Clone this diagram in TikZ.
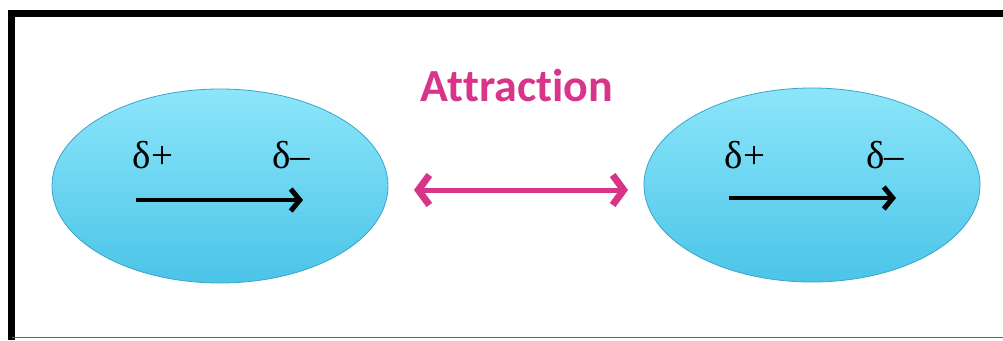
\documentclass[tikz,border=0pt]{standalone}
\usepackage{fontspec}
\setmainfont[Ligatures={NoCommon,NoRequired,NoContextual}]{Carlito}
\newfontfamily\greekfont{Liberation Serif}
\usetikzlibrary{shapes.geometric,arrows.meta}
\definecolor{pinkA}{RGB}{216,52,138}
\definecolor{cyanTop}{RGB}{140,230,250}
\definecolor{cyanBot}{RGB}{75,196,232}
\definecolor{cyanEdge}{RGB}{60,165,200}
\tikzset{
  molecule/.style={ellipse, minimum width=336pt, minimum height=194pt, inner sep=0pt,
    top color=cyanTop, bottom color=cyanBot, draw=cyanEdge, line width=0.8pt},
  charge/.style={font=\greekfont\fontsize{39}{41}\selectfont, inner sep=0pt, anchor=base},
  dipole/.style={line width=4.5pt, -{Straight Barb[length=9pt,width=22pt,line width=5pt]}},
  attract/.style={pinkA, line width=5pt, {Straight Barb[length=11pt,width=30pt,line width=7pt]}-{Straight Barb[length=11pt,width=30pt,line width=7pt]}},
}
\begin{document}
\begin{tikzpicture}[x=1pt,y=-1pt]
\useasboundingbox (0,0) rectangle (1003,340);
\fill[white] (0,0) rectangle (1003,340);
% frame
\draw[line width=7pt] (11.5,340) -- (11.5,13.5) -- (1003,13.5);
\draw[line width=1.5pt, black!60] (12,337.5) -- (1003,337.5);
% molecules
\node[molecule] (m1) at (220,186) {};
\node[molecule] (m2) at (812,185) {};
% charges
\node[charge] (p1) at (153,168) {δ+};
\node[charge] (n1) at (291,168) {δ–};
\node[charge] (p2) at (745,168) {δ+};
\node[charge] (n2) at (885,168) {δ–};
% dipole arrows
\coordinate (d1s) at (136,200);
\coordinate (d1e) at (303,200);
\coordinate (d2s) at (729,198);
\coordinate (d2e) at (896,198);
\draw[dipole] (d1s) -- (d1e);
\draw[dipole] (d2s) -- (d2e);
% attraction
\node[pinkA, font=\bfseries\fontsize{46}{48}\selectfont, inner sep=0pt] (att) at (517,86) {At\kern0pt tract\kern0pt ion};
\coordinate (a1) at (414,190);
\coordinate (a2) at (628,190);
\draw[attract] (a1) -- (a2);
\end{tikzpicture}
\end{document}
